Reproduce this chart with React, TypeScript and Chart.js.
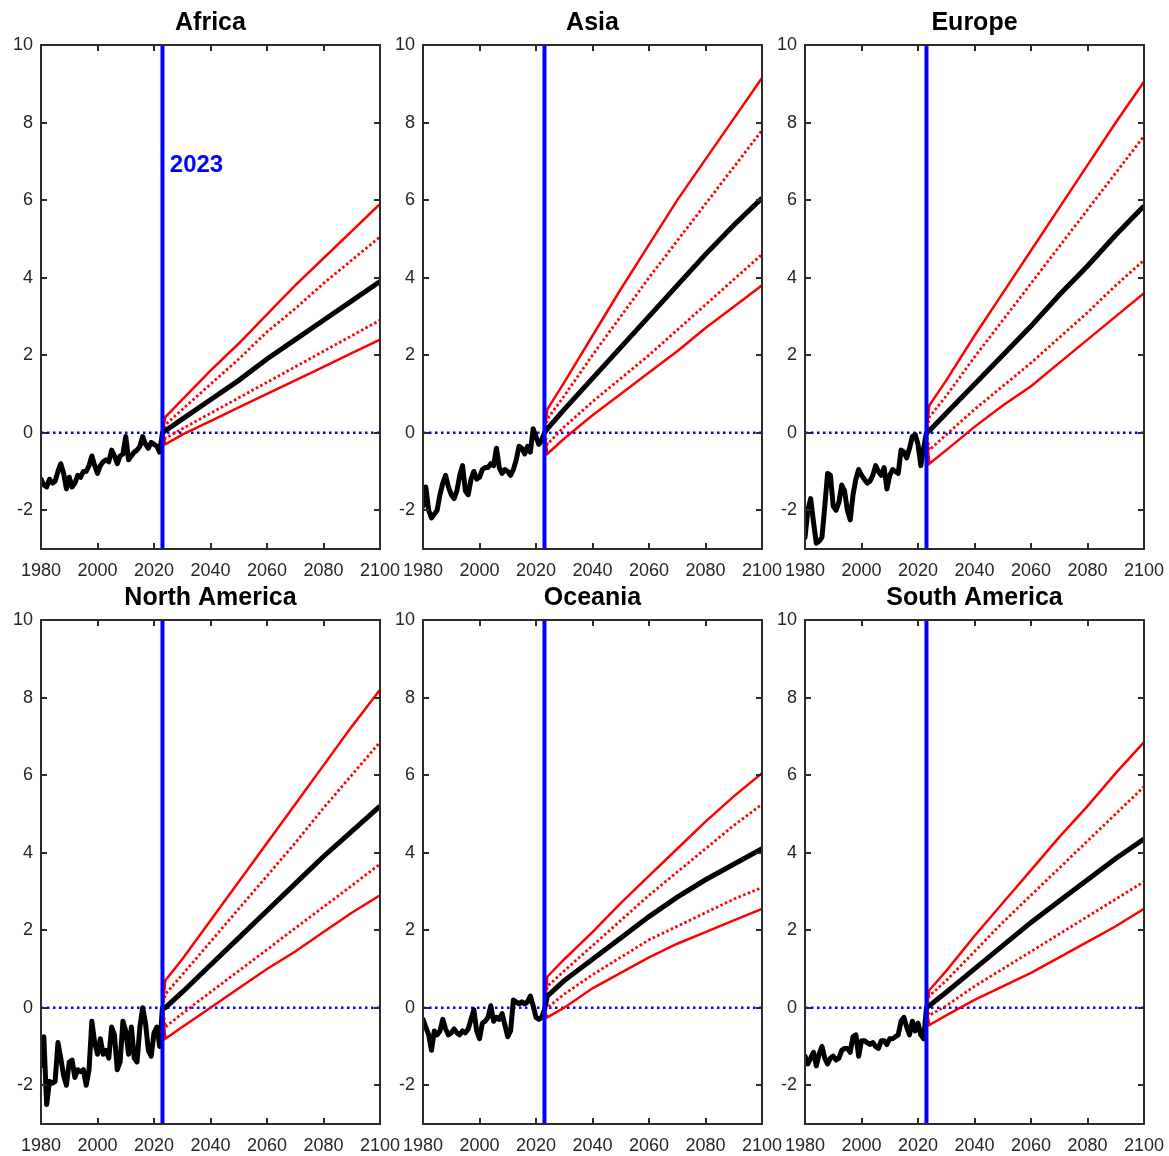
import React, { useEffect, useRef } from 'react';
import { Chart, registerables } from 'chart.js';
Chart.register(...registerables);

const FONT = '"Liberation Sans", Arial, sans-serif';

const OBS_YEARS = [
  1980, 1981, 1982, 1983, 1984, 1985, 1986, 1987, 1988, 1989,
  1990, 1991, 1992, 1993, 1994, 1995, 1996, 1997, 1998, 1999,
  2000, 2001, 2002, 2003, 2004, 2005, 2006, 2007, 2008, 2009,
  2010, 2011, 2012, 2013, 2014, 2015, 2016, 2017, 2018, 2019,
  2020, 2021, 2022, 2023,
];
const PROJ_YEARS = [2023, 2024, 2030, 2040, 2050, 2060, 2070, 2080, 2090, 2100];
const X_TICKS = [1980, 2000, 2020, 2040, 2060, 2080, 2100];
const Y_TICKS = [-2, 0, 2, 4, 6, 8, 10];
const X_MIN = 1980;
const X_MAX = 2100;
const Y_MIN = -3;
const Y_MAX = 10;
const BASELINE_YEAR = 2023;
const BASELINE_LABEL = '2023';
const LABEL_POS = { x: 2025.6, y: 6.9 };

// Africa
const AFRICA_OBS = [
  -1.2, -1.35, -1.4, -1.2, -1.3, -1.25, -1.0, -0.8, -1.05, -1.45,
  -1.15, -1.4, -1.3, -1.1, -1.15, -1.0, -1.0, -0.85, -0.6, -0.85,
  -1.05, -0.85, -0.75, -0.7, -0.75, -0.45, -0.6, -0.8, -0.6, -0.55,
  -0.1, -0.7, -0.6, -0.5, -0.45, -0.35, -0.1, -0.3, -0.4, -0.25,
  -0.3, -0.35, -0.5, 0.0,
];
const AFRICA_P95 = [0.0, 0.4, 0.85, 1.6, 2.3, 3.05, 3.8, 4.5, 5.2, 5.9];
const AFRICA_P83 = [0.0, 0.2, 0.6, 1.25, 1.9, 2.6, 3.2, 3.85, 4.45, 5.05];
const AFRICA_MED = [0.0, 0.05, 0.35, 0.85, 1.35, 1.9, 2.4, 2.9, 3.4, 3.9];
const AFRICA_P17 = [0.0, -0.15, 0.1, 0.5, 0.9, 1.3, 1.7, 2.1, 2.5, 2.9];
const AFRICA_P05 = [0.0, -0.3, -0.05, 0.3, 0.65, 1.0, 1.35, 1.7, 2.05, 2.4];

// Asia
const ASIA_OBS = [
  -1.9, -1.4, -2.0, -2.2, -2.1, -2.0, -1.6, -1.3, -1.1, -1.4,
  -1.6, -1.7, -1.5, -1.1, -0.85, -1.5, -1.6, -1.2, -1.0, -1.2,
  -1.15, -0.95, -0.9, -0.9, -0.8, -0.85, -0.4, -0.9, -1.05, -0.95,
  -1.0, -1.1, -0.95, -0.7, -0.35, -0.4, -0.55, -0.35, -0.5, 0.1,
  -0.1, -0.3, -0.2, 0.0,
];
const ASIA_P95 = [0.0, 0.6, 1.3, 2.5, 3.7, 4.85, 6.0, 7.05, 8.1, 9.15];
const ASIA_P83 = [0.0, 0.35, 0.95, 2.0, 3.0, 4.0, 4.95, 5.9, 6.85, 7.8];
const ASIA_MED = [0.0, 0.1, 0.6, 1.4, 2.2, 3.0, 3.8, 4.6, 5.35, 6.05];
const ASIA_P17 = [0.0, -0.3, 0.15, 0.8, 1.4, 2.0, 2.65, 3.3, 3.95, 4.6];
const ASIA_P05 = [0.0, -0.55, -0.15, 0.45, 1.0, 1.55, 2.1, 2.7, 3.25, 3.8];

// Europe
const EUROPE_OBS = [
  -2.7, -2.0, -1.7, -2.3, -2.85, -2.8, -2.7, -1.9, -1.05, -1.1,
  -1.9, -2.0, -1.8, -1.35, -1.5, -2.0, -2.25, -1.6, -1.2, -0.95,
  -1.1, -1.2, -1.3, -1.25, -1.1, -0.85, -1.0, -1.1, -0.9, -1.45,
  -1.1, -0.95, -1.0, -1.05, -0.45, -0.5, -0.65, -0.4, -0.1, -0.05,
  -0.3, -0.85, -0.4, 0.0,
];
const EUROPE_P95 = [0.0, 0.7, 1.35, 2.5, 3.6, 4.7, 5.8, 6.9, 8.0, 9.05];
const EUROPE_P83 = [0.0, 0.4, 0.95, 1.95, 2.9, 3.85, 4.8, 5.75, 6.7, 7.65];
const EUROPE_MED = [0.0, 0.05, 0.5, 1.25, 2.0, 2.75, 3.55, 4.3, 5.1, 5.85];
const EUROPE_P17 = [0.0, -0.45, -0.05, 0.6, 1.2, 1.8, 2.45, 3.1, 3.8, 4.45];
const EUROPE_P05 = [0.0, -0.8, -0.45, 0.15, 0.7, 1.2, 1.8, 2.4, 3.0, 3.6];

// North America
const NAMERICA_OBS = [
  -1.5, -0.75, -2.5, -1.9, -1.95, -1.9, -0.9, -1.3, -1.75, -2.0,
  -1.4, -1.35, -1.8, -1.6, -1.65, -1.6, -2.0, -1.6, -0.35, -0.9,
  -1.2, -0.8, -1.2, -1.1, -1.3, -0.5, -0.7, -1.6, -1.4, -0.35,
  -0.6, -1.2, -0.5, -1.3, -1.4, -0.5, 0.0, -0.4, -1.1, -1.25,
  -0.65, -0.5, -1.0, 0.0,
];
const NAMERICA_P95 = [0.0, 0.7, 1.25, 2.25, 3.25, 4.25, 5.25, 6.25, 7.25, 8.2];
const NAMERICA_P83 = [0.0, 0.35, 0.85, 1.7, 2.55, 3.4, 4.25, 5.15, 6.0, 6.85];
const NAMERICA_MED = [0.0, 0.0, 0.4, 1.1, 1.8, 2.5, 3.2, 3.9, 4.55, 5.2];
const NAMERICA_P17 = [0.0, -0.5, -0.15, 0.4, 0.95, 1.5, 2.05, 2.6, 3.15, 3.7];
const NAMERICA_P05 = [0.0, -0.8, -0.5, 0.0, 0.5, 1.0, 1.45, 1.95, 2.45, 2.9];

// Oceania
const OCEANIA_OBS = [
  -0.3, -0.5, -0.7, -1.1, -0.6, -0.7, -0.6, -0.3, -0.55, -0.7,
  -0.65, -0.55, -0.65, -0.7, -0.6, -0.65, -0.55, -0.3, -0.05, -0.6,
  -0.8, -0.4, -0.35, -0.25, 0.05, -0.35, -0.25, -0.3, -0.15, -0.45,
  -0.75, -0.6, 0.2, 0.15, 0.1, 0.15, 0.1, 0.15, 0.3, 0.05,
  -0.25, -0.3, -0.25, -0.05,
];
const OCEANIA_P95 = [-0.05, 0.8, 1.25, 1.95, 2.7, 3.4, 4.1, 4.8, 5.45, 6.05];
const OCEANIA_P83 = [-0.05, 0.55, 0.95, 1.6, 2.25, 2.9, 3.5, 4.1, 4.7, 5.25];
const OCEANIA_MED = [-0.05, 0.3, 0.7, 1.25, 1.8, 2.35, 2.85, 3.3, 3.7, 4.1];
const OCEANIA_P17 = [-0.05, 0.0, 0.35, 0.85, 1.3, 1.75, 2.1, 2.45, 2.8, 3.1];
const OCEANIA_P05 = [-0.05, -0.25, 0.0, 0.5, 0.9, 1.3, 1.65, 1.95, 2.25, 2.55];

// South America
const SAMERICA_OBS = [
  -1.25, -1.45, -1.3, -1.15, -1.5, -1.2, -1.0, -1.3, -1.45, -1.3,
  -1.25, -1.35, -1.3, -1.1, -1.05, -1.05, -1.15, -0.75, -0.7, -1.25,
  -0.85, -0.85, -0.9, -0.95, -0.9, -1.0, -1.05, -0.85, -0.85, -0.95,
  -0.8, -0.8, -0.75, -0.7, -0.35, -0.25, -0.5, -0.7, -0.35, -0.6,
  -0.4, -0.7, -0.8, 0.0,
];
const SAMERICA_P95 = [0.0, 0.45, 0.95, 1.85, 2.7, 3.55, 4.4, 5.2, 6.05, 6.85];
const SAMERICA_P83 = [0.0, 0.3, 0.7, 1.45, 2.2, 2.9, 3.6, 4.3, 5.0, 5.7];
const SAMERICA_MED = [0.0, 0.05, 0.4, 1.0, 1.6, 2.2, 2.75, 3.3, 3.85, 4.35];
const SAMERICA_P17 = [0.0, -0.2, 0.05, 0.55, 1.0, 1.45, 1.9, 2.35, 2.8, 3.25];
const SAMERICA_P05 = [0.0, -0.45, -0.2, 0.2, 0.55, 0.9, 1.3, 1.7, 2.1, 2.55];

const REGIONS = [
  { title: 'Africa', obs: AFRICA_OBS, p95: AFRICA_P95, p83: AFRICA_P83, med: AFRICA_MED, p17: AFRICA_P17, p05: AFRICA_P05, label: true },
  { title: 'Asia', obs: ASIA_OBS, p95: ASIA_P95, p83: ASIA_P83, med: ASIA_MED, p17: ASIA_P17, p05: ASIA_P05, label: false },
  { title: 'Europe', obs: EUROPE_OBS, p95: EUROPE_P95, p83: EUROPE_P83, med: EUROPE_MED, p17: EUROPE_P17, p05: EUROPE_P05, label: false },
  { title: 'North America', obs: NAMERICA_OBS, p95: NAMERICA_P95, p83: NAMERICA_P83, med: NAMERICA_MED, p17: NAMERICA_P17, p05: NAMERICA_P05, label: false },
  { title: 'Oceania', obs: OCEANIA_OBS, p95: OCEANIA_P95, p83: OCEANIA_P83, med: OCEANIA_MED, p17: OCEANIA_P17, p05: OCEANIA_P05, label: false },
  { title: 'South America', obs: SAMERICA_OBS, p95: SAMERICA_P95, p83: SAMERICA_P83, med: SAMERICA_MED, p17: SAMERICA_P17, p05: SAMERICA_P05, label: false },
];

// layout (pixels)
const PLOT_LEFTS = [41, 423, 805];
const ROW_TOPS = [0, 575];
const Y_AXIS_W = 41;
const RIGHT_PAD = 25;
const PLOT_W = 339;
const TITLE_H = 45;
const PLOT_H = 504;
const X_AXIS_H = 32;

const pts = (xs: number[], ys: number[]) => xs.map((x, i) => ({ x, y: ys[i] }));

const framePlugin = {
  id: 'frame',
  afterDatasetsDraw(chart: any) {
    const { ctx, chartArea } = chart;
    const xs = chart.scales.x;
    const ys = chart.scales.y;
    const { left, right, top, bottom } = chartArea;
    ctx.save();
    ctx.strokeStyle = '#2b2b2b';
    ctx.lineWidth = 2;
    ctx.beginPath();
    const tl = 6;
    X_TICKS.forEach((v) => {
      const px = Math.round(xs.getPixelForValue(v));
      if (v === X_MIN || v === X_MAX) return;
      ctx.moveTo(px, bottom);
      ctx.lineTo(px, bottom - tl);
      ctx.moveTo(px, top);
      ctx.lineTo(px, top + tl);
    });
    Y_TICKS.forEach((v) => {
      const py = Math.round(ys.getPixelForValue(v));
      if (v === Y_MAX) return;
      ctx.moveTo(left, py);
      ctx.lineTo(left + tl, py);
      ctx.moveTo(right, py);
      ctx.lineTo(right - tl, py);
    });
    ctx.stroke();
    ctx.strokeRect(left, top, right - left, bottom - top);
    ctx.restore();
  },
};

const labelPlugin = {
  id: 'baselineLabel',
  afterDatasetsDraw(chart: any, _args: any, opts: any) {
    if (!opts || !opts.show) return;
    const { ctx } = chart;
    const px = chart.scales.x.getPixelForValue(LABEL_POS.x);
    const py = chart.scales.y.getPixelForValue(LABEL_POS.y);
    ctx.save();
    ctx.fillStyle = '#0000ff';
    ctx.font = `bold 24px ${FONT}`;
    ctx.textAlign = 'left';
    ctx.textBaseline = 'middle';
    ctx.fillText(BASELINE_LABEL, px, py);
    ctx.restore();
  },
};

const noPad = (s: any) => {
  s.paddingLeft = 0;
  s.paddingRight = 0;
  s.paddingTop = 0;
  s.paddingBottom = 0;
};

function Panel({ region, col, row }: { region: any; col: number; row: number }) {
  const ref = useRef<HTMLCanvasElement | null>(null);
  const canvasLeft = PLOT_LEFTS[col] - Y_AXIS_W;
  const canvasTop = ROW_TOPS[row];
  const W = Y_AXIS_W + PLOT_W + RIGHT_PAD;
  const H = TITLE_H + PLOT_H + X_AXIS_H;

  useEffect(() => {
    if (!ref.current) return;
    const red = '#ff0000';
    const chart = new Chart(ref.current, {
      type: 'line',
      data: {
        datasets: [
          {
            data: [{ x: BASELINE_YEAR, y: Y_MIN }, { x: BASELINE_YEAR, y: Y_MAX }],
            borderColor: '#0000ff', borderWidth: 4, pointRadius: 0, order: 0,
          },
          {
            data: pts(OBS_YEARS, region.obs),
            borderColor: '#000000', borderWidth: 5, pointRadius: 0, order: 1,
            borderJoinStyle: 'round', borderCapStyle: 'round',
          },
          {
            data: pts(PROJ_YEARS, region.med),
            borderColor: '#000000', borderWidth: 5, pointRadius: 0, order: 2,
          },
          {
            data: pts(PROJ_YEARS, region.p95),
            borderColor: red, borderWidth: 2.5, pointRadius: 0, order: 3,
          },
          {
            data: pts(PROJ_YEARS, region.p05),
            borderColor: red, borderWidth: 2.5, pointRadius: 0, order: 3,
          },
          {
            data: pts(PROJ_YEARS, region.p83),
            borderColor: red, borderWidth: 2.8, borderDash: [2.5, 2.5], pointRadius: 0, order: 3,
          },
          {
            data: pts(PROJ_YEARS, region.p17),
            borderColor: red, borderWidth: 2.8, borderDash: [2.5, 2.5], pointRadius: 0, order: 3,
          },
          {
            data: [{ x: X_MIN, y: 0 }, { x: X_MAX, y: 0 }],
            borderColor: '#0000ff', borderWidth: 2.5, borderDash: [2.5, 3.5], pointRadius: 0, order: 5,
          },
        ],
      },
      options: {
        animation: false,
        responsive: false,
        devicePixelRatio: 1,
        layout: { padding: { left: 0, right: RIGHT_PAD, top: 0, bottom: 0 } },
        plugins: {
          legend: { display: false },
          tooltip: { enabled: false },
          title: {
            display: true,
            text: region.title,
            color: '#000000',
            fullSize: false,
            font: { family: FONT, size: 25, weight: 'bold', lineHeight: 1.2 },
            padding: { top: 8, bottom: 7 },
          },
          baselineLabel: { show: region.label },
        } as any,
        scales: {
          x: {
            type: 'linear',
            min: X_MIN,
            max: X_MAX,
            grid: { display: false, drawTicks: false },
            border: { display: false },
            afterBuildTicks: (s: any) => { s.ticks = X_TICKS.map((v) => ({ value: v })); },
            afterFit: (s: any) => { s.height = X_AXIS_H; noPad(s); },
            ticks: {
              autoSkip: false,
              maxRotation: 0,
              padding: 11,
              color: '#262626',
              font: { family: FONT, size: 18 },
              callback: (v: any) => String(v),
            },
          },
          y: {
            type: 'linear',
            min: Y_MIN,
            max: Y_MAX,
            grid: { display: false, drawTicks: false },
            border: { display: false },
            afterBuildTicks: (s: any) => { s.ticks = Y_TICKS.map((v) => ({ value: v })); },
            afterFit: (s: any) => { s.width = Y_AXIS_W; noPad(s); },
            ticks: {
              padding: 8,
              color: '#262626',
              font: { family: FONT, size: 18 },
              callback: (v: any) => String(v),
            },
          },
        },
      },
      plugins: [framePlugin, labelPlugin],
    } as any);
    return () => chart.destroy();
  }, [region]);

  return (
    <canvas
      ref={ref}
      width={W}
      height={H}
      style={{ position: 'absolute', left: canvasLeft, top: canvasTop, width: W, height: H }}
    />
  );
}

export default function App() {
  return (
    <div
      style={{
        position: 'absolute',
        left: 0,
        top: 0,
        width: 1169,
        height: 1156,
        overflow: 'hidden',
        background: '#ffffff',
      }}
    >
      {REGIONS.map((r, i) => (
        <Panel key={r.title} region={r} col={i % 3} row={Math.floor(i / 3)} />
      ))}
    </div>
  );
}
